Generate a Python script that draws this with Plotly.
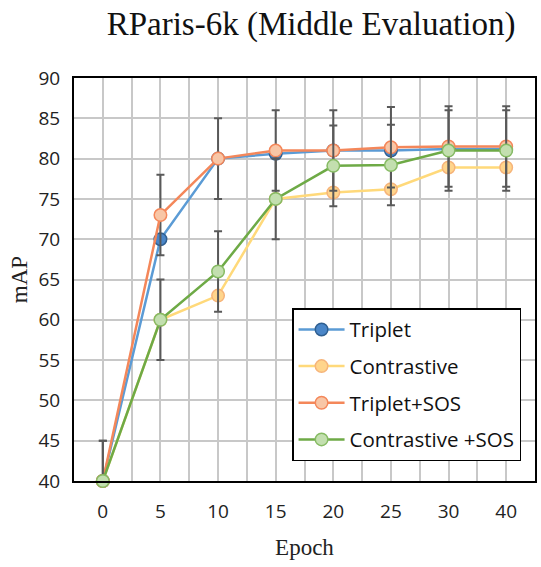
import plotly.graph_objects as go

epochs = ["0", "5", "10", "15", "20", "25", "30", "40"]
triplet = [40, 70, 80, 80.6, 81, 81, 81.2, 81.2]
contrastive = [40, 60, 63, 75, 75.8, 76.2, 78.9, 78.9]
triplet_sos = [40, 73, 80, 81, 81, 81.4, 81.5, 81.5]
contrastive_sos = [40, 60, 66, 75, 79.1, 79.2, 81, 81]
err_triplet_sos = [5, 5, 5, 5, 5, 5, 5, 5]
err_contrastive_sos = [5, 5, 5, 5, 5, 5, 5, 5]

xpos = list(range(len(epochs)))

series = [
    ("Triplet", triplet, "#5B9BD5", "#4A86C8", "#2F5F91", None),
    ("Contrastive", contrastive, "#FFD97A", "#FFD58C", "#F6B47A", None),
    ("Triplet+SOS", triplet_sos, "#F4875A", "#F8C6A6", "#F4875A", err_triplet_sos),
    ("Contrastive +SOS", contrastive_sos, "#6EAA46", "#C3DFAF", "#86BB63", err_contrastive_sos),
]

fig = go.Figure()
for i, (name, vals, lc, fc, bc, err) in enumerate(series):
    kw = {}
    if err is not None:
        kw["error_y"] = dict(type="data", array=err, visible=True,
                             color="#595959", thickness=2, width=4)
    fig.add_trace(go.Scatter(
        x=xpos, y=vals, name=name, mode="lines+markers",
        line=dict(color=lc, width=2.5),
        marker=dict(size=12.5, color=fc, line=dict(color=bc, width=1.5)),
        legendgroup=f"g{i}", cliponaxis=False, **kw))

fig.update_layout(
    width=541, height=567,
    margin=dict(l=74, r=4, t=78, b=86),
    paper_bgcolor="white", plot_bgcolor="white",
    title=dict(text="RParis-6k (Middle Evaluation)", x=0.575, xanchor="center",
               y=0.958, yanchor="middle",
               font=dict(family="Liberation Serif", size=33, color="#111")),
    font=dict(family="Open Sans", size=19, color="#222"),
    xaxis=dict(range=[-0.5, 7.5], tickvals=xpos, ticktext=epochs,
               showgrid=True, gridcolor="#C8C8C8", gridwidth=1.5,
               minor=dict(tick0=-0.5, dtick=1, showgrid=True, gridcolor="#C8C8C8", gridwidth=1.5),
               showline=True, linecolor="black", linewidth=2, mirror=True,
               zeroline=False, ticks="", ticklabelstandoff=12,
               tickfont=dict(family="Open Sans", size=19, color="#222"),
               title=dict(text="Epoch", standoff=16,
                          font=dict(family="Liberation Serif", size=23, color="#222"))),
    yaxis=dict(range=[40, 90], dtick=5, tick0=40,
               showgrid=True, gridcolor="#C8C8C8", gridwidth=1.5,
               showline=True, linecolor="black", linewidth=2, mirror=True,
               zeroline=False, ticks="", ticklabelstandoff=8,
               tickfont=dict(family="Open Sans", size=19, color="#222"),
               title=dict(text="mAP", standoff=4,
                          font=dict(family="Liberation Serif", size=23, color="#222"))),
    legend=dict(x=0.473, y=0.429, xanchor="left", yanchor="top",
                bgcolor="white", bordercolor="black", borderwidth=1.5,
                font=dict(family="Open Sans", size=20.5, color="#111"),
                tracegroupgap=7, itemwidth=46),
    showlegend=True,
)

fig.write_html("out.html")
